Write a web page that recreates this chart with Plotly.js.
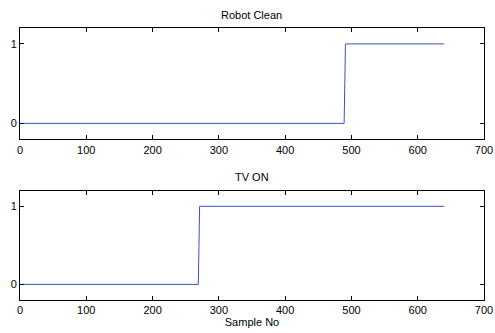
<!DOCTYPE html>
<html><head><meta charset="utf-8">
<script src="https://cdn.plot.ly/plotly-3.0.1.min.js"></script>
<style>html,body{margin:0;padding:0;background:#fff}#chart{width:495px;height:333px}</style>
</head><body><div id="chart"></div>
<script>
// Robot Clean signal (sample no, value) at its change points
const robotX = [1, 489, 490, 491, 640];
const robotY = [0, 0, 0.5, 1, 1];
// TV ON signal
const tvX = [1, 269, 270, 271, 640];
const tvY = [0, 0, 0.5, 1, 1];
const titles = ["Robot Clean", "TV ON"];
const xTicks = [0, 100, 200, 300, 400, 500, 600, 700];
const yTicks = [0, 1];

const lineColor = "#3656b8";
const font = {family: "Liberation Sans, Arial, sans-serif", size: 11, color: "#000"};
const traces = [
  {x: robotX, y: robotY, type: "scatter", mode: "lines", line: {color: lineColor, width: 1}, xaxis: "x", yaxis: "y", hoverinfo: "none"},
  {x: tvX, y: tvY, type: "scatter", mode: "lines", line: {color: lineColor, width: 1}, xaxis: "x2", yaxis: "y2", hoverinfo: "none"}
];
function xa(anchor, extra) {
  return Object.assign({range: [0, 700], tickvals: xTicks, ticktext: xTicks.map(String), ticks: "inside", ticklen: 4, tickcolor: "#000",
    showline: true, linecolor: "#000", linewidth: 1, mirror: "ticks", showgrid: false, zeroline: false, anchor: anchor,
    domain: [20/495, 484/495], tickfont: font}, extra || {});
}
function ya(anchor, dom) {
  return {range: [-0.2, 1.2], tickvals: yTicks, ticktext: yTicks.map(String), ticks: "inside", ticklen: 4, tickcolor: "#000",
    showline: true, linecolor: "#000", linewidth: 1, mirror: "ticks", showgrid: false, zeroline: false, anchor: anchor,
    domain: dom, tickfont: font};
}
const H = 333;
const layout = {
  width: 495, height: 333, margin: {l: 0, r: 0, t: 0, b: 0},
  paper_bgcolor: "#fff", plot_bgcolor: "#fff", showlegend: false, font: font,
  xaxis: xa("y"),
  yaxis: ya("x", [1 - 139.3/H, 1 - 28/H]),
  xaxis2: xa("y2", {title: {text: "Sample No", font: font, standoff: 2}}),
  yaxis2: ya("x2", [1 - 300/H, 1 - 190.7/H]),
  annotations: [
    {text: titles[0], xref: "paper", yref: "paper", x: 252/495, y: 1 - 15/H, showarrow: false, font: font, xanchor: "center", yanchor: "middle"},
    {text: titles[1], xref: "paper", yref: "paper", x: 252/495, y: 1 - 177/H, showarrow: false, font: font, xanchor: "center", yanchor: "middle"}
  ]
};
Plotly.newPlot("chart", traces, layout, {staticPlot: true, displayModeBar: false});
</script></body></html>
